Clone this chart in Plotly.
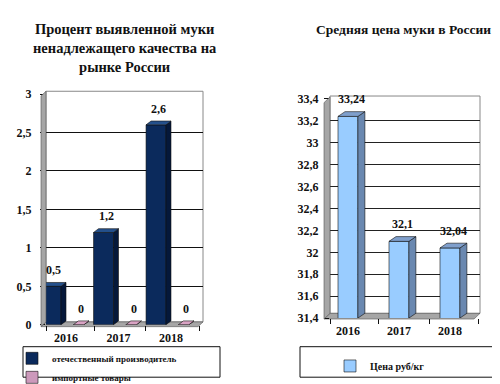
import plotly.graph_objects as go

# ---------------- data ----------------
years = ["2016", "2017", "2018"]
domestic = [0.5, 1.2, 2.6]          # отечественный производитель, %
imported = [0, 0, 0]                # импортные товары, %
price = [33.24, 32.1, 32.04]        # Цена руб/кг

left_title = "Процент выявленной муки<br>ненадлежащего качества на<br>рынке России"
right_title = "Средняя цена муки в России"
name_dom = "отечественный производитель"
name_imp = "импортные товары"
name_price = "Цена руб/кг"

W, H = 500, 384
FONT = "Liberation Serif"


def px(x):
    return x / W


def py(y):
    return 1 - y / H


pos = list(range(len(years)))

fig = go.Figure()


def faces(positions, values, offset, width, dx, dy, base):
    tx, ty, sx, sy = [], [], [], []
    for p, v in zip(positions, values):
        x0 = p + offset
        x1 = x0 + width
        tx += [x0, x1, x1 + dx, x0 + dx, x0, None]
        ty += [v, v, v + dy, v + dy, v, None]
        sx += [x1, x1, x1 + dx, x1 + dx, x1, None]
        sy += [base, v, v + dy, base + dy, base, None]
    return tx, ty, sx, sy


def add_bar3d(values, offset, width, dx, dy, base, front, side, top, name, xa, ya, legend):
    fig.add_trace(go.Bar(
        x=pos, y=values, offset=offset, width=width, name="<b>%s</b>" % name,
        marker=dict(color=front, line=dict(color="#111111", width=0.6)),
        xaxis=xa, yaxis=ya, legend=legend, hoverinfo="y"))
    tx, ty, sx, sy = faces(pos, values, offset, width, dx, dy, base)
    fig.add_trace(go.Scatter(x=sx, y=sy, fill="toself", fillcolor=side, mode="lines",
                             line=dict(color="#111111", width=0.6), showlegend=False,
                             hoverinfo="skip", xaxis=xa, yaxis=ya, cliponaxis=False))
    fig.add_trace(go.Scatter(x=tx, y=ty, fill="toself", fillcolor=top, mode="lines",
                             line=dict(color="#111111", width=0.6), showlegend=False,
                             hoverinfo="skip", xaxis=xa, yaxis=ya, cliponaxis=False))


# left chart
LDX, LDY = 0.095, 0.05
add_bar3d(domestic, -0.475, 0.38, LDX, LDY, 0, "#0b2a5c", "#05183a", "#24508c",
          name_dom, "x", "y", "legend")
add_bar3d(imported, 0.14, 0.2, LDX, LDY, 0, "#cc99bb", "#aa7799", "#d9a3c4",
          name_imp, "x", "y", "legend")

# right chart
RDX, RDY = 0.137, 0.0435
add_bar3d(price, -0.196, 0.39, RDX, RDY, 31.4, "#99ccff", "#6a88b0", "#7f9fcc",
          name_price, "x2", "y2", "legend2")

annotations = []


def fmt(v):
    return "<b>%s</b>" % ("%g" % v).replace(".", ",")


lab_font = dict(family=FONT, size=12, color="#111")

for p, v in zip(pos, domestic):
    annotations.append(dict(x=p - 0.475 + 0.19 + LDX / 2, y=v, xref="x", yref="y",
                            text=fmt(v), showarrow=False, yshift=16, font=lab_font))
for p, v in zip(pos, imported):
    annotations.append(dict(x=p + 0.14 + 0.1 + LDX / 2, y=v, xref="x", yref="y",
                            text=fmt(v), showarrow=False, yshift=16, font=lab_font))
for p, v in zip(pos, price):
    annotations.append(dict(x=p - 0.196 + 0.195 + RDX / 2, y=v, xref="x2", yref="y2",
                            text=fmt(v), showarrow=False, yshift=17, font=lab_font))

annotations.append(dict(x=px(117), y=py(4), xref="paper", yref="paper", xanchor="center",
                        yanchor="top", text="<b>%s</b>" % left_title.replace("<br>", "</b><br><b>"),
                        showarrow=False, font=dict(family=FONT, size=14.5, color="#111")))
annotations.append(dict(x=px(395), y=py(15), xref="paper", yref="paper", xanchor="center",
                        yanchor="middle", text="<b>%s</b>" % right_title, showarrow=False,
                        font=dict(family=FONT, size=13.5, color="#111")))


def ppath(points):
    s = "M " + " L ".join("%f,%f" % (px(x), py(y)) for x, y in points) + " Z"
    return s


shapes = [
    # left walls / floor
    dict(type="rect", xref="paper", yref="paper", x0=px(38), x1=px(195), y0=py(322), y1=py(80),
         line=dict(color="#888", width=1), fillcolor="rgba(0,0,0,0)", layer="below"),
    dict(type="path", xref="paper", yref="paper", path=ppath([(33, 327), (33, 85), (38, 80), (38, 322)]),
         fillcolor="#a6a6a6", line=dict(color="#555", width=0.6)),
    dict(type="path", xref="paper", yref="paper", path=ppath([(33, 327), (190, 327), (195, 322), (38, 322)]),
         fillcolor="#a6a6a6", line=dict(color="#555", width=0.6), layer="below"),
    # right walls / floor
    dict(type="rect", xref="paper", yref="paper", x0=px(322), x1=px(472), y0=py(313), y1=py(85),
         line=dict(color="#888", width=1), fillcolor="rgba(0,0,0,0)", layer="below"),
    dict(type="path", xref="paper", yref="paper", path=ppath([(316, 319), (316, 92), (322, 86), (322, 313)]),
         fillcolor="#a6a6a6", line=dict(color="#555", width=0.6)),
    dict(type="path", xref="paper", yref="paper", path=ppath([(316, 319), (466, 319), (472, 313), (322, 313)]),
         fillcolor="#a6a6a6", line=dict(color="#555", width=0.6), layer="below"),
    # legend boxes
    dict(type="rect", xref="paper", yref="paper", x0=px(15), x1=px(212), y0=py(380), y1=py(348),
         line=dict(color="#111", width=1)),
    dict(type="rect", xref="paper", yref="paper", x0=px(292), x1=px(490), y0=py(380), y1=py(348),
         line=dict(color="#111", width=1)),
]

tickfont = dict(family=FONT, size=12, color="#111", weight="bold")

fig.update_layout(
    width=W, height=H, margin=dict(l=0, r=0, t=0, b=0),
    paper_bgcolor="white", plot_bgcolor="rgba(0,0,0,0)",
    separators=", ", showlegend=True,
    font=dict(family=FONT),
    annotations=annotations, shapes=shapes,
    xaxis=dict(domain=[px(38), px(195)], range=[-0.381, 2.61], tickvals=pos, ticktext=years,
               ticks="", showgrid=False, zeroline=False, tickfont=tickfont, ticklabelstandoff=4,
               minor=dict(tickvals=[-0.381, 0.55, 1.52, 2.55], ticks="outside", ticklen=5,
                          tickcolor="#111", showgrid=False), anchor="y"),
    yaxis=dict(domain=[py(325), py(83)], range=[0, 3], dtick=0.5, showgrid=True,
               gridcolor="#111", gridwidth=1, zeroline=False, ticks="outside", ticklen=5,
               tickcolor="#111", tickfont=tickfont, ticklabelstandoff=6, anchor="x"),
    xaxis2=dict(domain=[px(322), px(472)], range=[-0.353, 2.588], tickvals=pos, ticktext=years,
                ticks="", showgrid=False, zeroline=False, tickfont=tickfont, ticklabelstandoff=4,
                minor=dict(tickvals=[-0.353, 0.59, 1.59, 2.55], ticks="outside", ticklen=5,
                           tickcolor="#111", showgrid=False), anchor="y2"),
    yaxis2=dict(domain=[py(318), py(88)], range=[31.4, 33.4], dtick=0.2, showgrid=True,
                gridcolor="#222", gridwidth=1, zeroline=False, ticks="outside", ticklen=5,
                tickcolor="#111", tickfont=tickfont, ticklabelstandoff=3, anchor="x2"),
    legend=dict(x=px(4), y=py(345), xanchor="left", yanchor="top", bgcolor="rgba(0,0,0,0)",
                font=dict(family=FONT, size=9, color="#111"),
                itemwidth=30, tracegroupgap=0),
    legend2=dict(x=px(322), y=py(353), xanchor="left", yanchor="top", bgcolor="rgba(0,0,0,0)",
                 font=dict(family=FONT, size=10, color="#111"),
                 itemwidth=30),
)

fig.write_html("out.html")
